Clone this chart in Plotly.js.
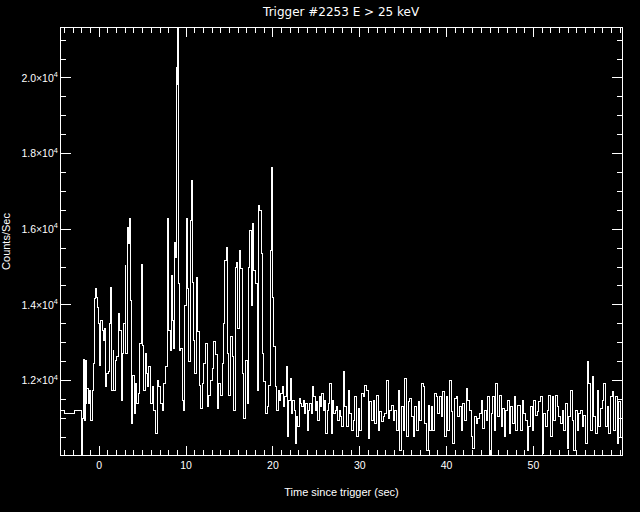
<!DOCTYPE html>
<html>
<head>
<meta charset="utf-8">
<script src="https://cdn.plot.ly/plotly-3.0.1.min.js"></script>
<style>html,body{margin:0;padding:0;background:#000;}#chart{width:640px;height:512px;}
#chart .js-line{shape-rendering:crispEdges;}</style>
</head>
<body>
<div id="chart"></div>
<script>
// Burst portion (time in s since trigger, counts/sec)
const timeBurst = [-4.43,-3.97,-2.82,-2.05,-1.97,-1.82,-1.74,-1.67,-1.59,-1.51,-1.44,-1.28,-1.13,-0.98,-0.82,-0.71,-0.59,-0.48,-0.36,-0.21,-0.10,0.06,0.17,0.36,0.48,0.63,0.75,0.86,1.02,1.13,1.32,1.44,1.59,1.70,1.82,2.01,2.20,2.39,2.59,2.70,2.85,2.97,3.08,3.24,3.39,3.54,3.66,3.77,3.89,4.08,4.20,4.31,4.54,4.69,4.85,4.96,5.15,5.34,5.46,5.61,5.73,5.92,6.15,6.30,6.49,6.69,6.88,7.07,7.26,7.45,7.64,7.83,7.91,8.03,8.22,8.33,8.45,8.60,8.72,8.83,8.91,8.98,9.02,9.10,9.25,9.37,9.56,9.75,9.83,10.06,10.17,10.32,10.48,10.59,10.71,10.86,11.01,11.21,11.36,11.51,11.67,11.86,12.05,12.24,12.43,12.62,12.81,13.01,13.20,13.39,13.58,13.77,13.96,14.16,14.35,14.46,14.62,14.73,14.92,15.11,15.30,15.50,15.69,15.80,15.96,16.11,16.26,16.45,16.65,16.84,17.03,17.22,17.34,17.49,17.64,17.80,17.99,18.18,18.37,18.49,18.68,18.79,18.94,19.14,19.33,19.52,19.71,19.79,19.94,20.09,20.28];
const countsBurst = [11216,11128,11216,10000,10996,12553,11831,10952,12535,11392,11787,11392,11743,10952,11743,12447,14162,14426,14206,13942,13503,12403,13591,13327,13063,13371,11831,12183,12227,13503,14470,11743,12799,11743,12535,12623,13767,13327,11480,12711,13503,15042,12711,16054,15614,16274,14118,10864,12139,11128,11920,11392,11656,12975,15060,12931,11743,12711,12183,11831,12359,11392,11831,11216,10600,12007,11831,11392,11216,11920,12359,13327,16274,13327,12799,14778,13591,12843,15658,15262,20276,19837,21400,14558,12799,12843,11480,11216,13987,16274,14426,12491,16230,17285,14602,13063,12183,14734,13283,11875,11260,11920,12447,12975,11304,11612,12007,12315,13019,12700,11260,11920,11612,12447,13503,15174,15526,12711,11612,13151,12623,11216,14998,15130,13371,15438,14954,12183,10996,12535,11392,14998,15966,13987,16142,14910,14558,11743,16626,16494,15350,12711,11964,11128,11304,11875,15438,17637,14206,12887,11831];

// Post-burst background
const timeTail = [20.37,20.59,20.75,20.90,21.05,21.21,21.36,21.51,21.67,21.82,21.97,22.13,22.28,22.43,22.59,22.74,22.89,23.05,23.20,23.35,23.51,23.66,23.81,23.97,24.12,24.27,24.43,24.58,24.73,24.89,25.04,25.19,25.35,25.50,25.65,25.81,25.96,26.11,26.27,26.42,26.57,26.72,26.88,27.03,27.18,27.34,27.49,27.64,27.80,27.95,
28.10,28.29,28.48,28.67,28.87,29.06,29.25,29.44,29.63,29.82,30.02,30.21,30.40,30.59,30.78,30.97,31.16,31.36,31.55,31.74,31.93,32.12,32.31,32.51,32.70,32.89,33.08,33.27,33.46,33.65,33.85,34.04,34.23,34.42,34.61,34.80,35.00,35.19,35.38,35.57,35.76,35.95,36.15,36.34,36.53,36.72,36.91,37.10,37.29,37.49,37.68,37.87,38.06,
38.22,38.41,38.60,38.79,38.99,39.18,39.37,39.56,39.75,39.94,40.14,40.33,40.52,40.71,40.90,41.09,41.28,41.48,41.67,41.86,42.05,42.24,42.43,42.63,42.82,43.01,43.20,43.39,43.58,43.77,43.97,44.16,44.35,44.54,44.73,44.92,45.12,45.31,45.50,45.69,45.88,46.07,46.27,46.46,46.65,46.84,47.03,47.22,47.41,47.61,47.80,47.99,48.18,
48.33,48.52,48.71,48.90,49.10,49.29,49.48,49.67,49.86,50.05,50.25,50.44,50.63,50.82,51.01,51.20,51.39,51.59,51.78,51.97,52.16,52.35,52.54,52.74,52.93,53.12,53.31,53.50,53.69,53.88,54.08,54.27,54.46,54.65,54.84,55.03,55.23,55.42,55.61,55.80,55.99,56.18,56.38,56.57,56.76,56.95,57.14,57.33,57.52,57.72,57.91,58.10,58.29,58.48,58.67,58.86,59.06,59.25,59.44,59.63,59.82,60.01];
const countsTail = [11216,11744,11480,11656,11832,11304,11568,12360,10512,11480,12052,11128,11480,11216,10336,11040,10776,11524,11392,11304,11480,11128,11392,10688,11216,11392,11128,11832,11568,11216,11436,10952,11568,11304,11656,11216,11480,10600,11216,11392,11920,10600,11480,11128,11216,11304,10952,11216,11040,10776,
12227,11304,10776,11743,11128,10688,10952,11568,10512,11260,10688,11656,11568,11875,11743,10468,11436,10952,11480,10864,11612,10688,11172,10908,11040,11128,12007,10996,11216,11348,10952,11216,10688,11743,10160,11304,10688,12051,10512,11436,11524,11040,10512,11304,10688,11436,10952,11919,11832,10864,10160,11348,10688,
11304,10688,11656,11568,11128,11568,11040,11700,10512,11568,10688,12007,11172,10336,11524,11568,11040,11304,10688,11392,10952,11788,11480,11216,10512,10204,11040,10864,10996,11128,11480,10732,11216,10952,11568,9940,11128,11568,10688,11919,11040,11612,10776,11260,10512,11216,11480,10600,11304,10864,11568,10688,11348,
11348,10688,11480,11128,10952,10160,10776,11304,10688,11480,11084,11172,11436,11568,10072,11128,10776,11216,11612,10512,11568,10952,11612,11304,11040,10864,11216,10688,11392,10204,11040,11743,10952,10160,11216,10688,11128,11216,10776,11084,10336,12509,11919,10688,12095,11040,10600,11743,10776,11260,11480,11919,10776,11304,10600,11568,11700,10688,11568,10336,11436,10512];

const yTickVals = [12000,14000,16000,18000,20000];
const yTickText = ['1.2×10<sup>4</sup>','1.4×10<sup>4</sup>','1.6×10<sup>4</sup>','1.8×10<sup>4</sup>','2.0×10<sup>4</sup>'];
const xTickVals = [0,10,20,30,40,50];

const fnt = {family: 'Liberation Sans, Arial, sans-serif', size: 10.5, color: '#ffffff'};
const titleFnt = {family: 'Liberation Sans, Arial, sans-serif', size: 11, color: '#ffffff'};

Plotly.newPlot('chart', [{
  x: timeBurst.concat(timeTail),
  y: countsBurst.concat(countsTail),
  type: 'scatter', mode: 'lines',
  line: {color: '#ffffff', width: 1, shape: 'hv'},
  hoverinfo: 'skip'
}], {
  width: 640, height: 512,
  paper_bgcolor: '#000000', plot_bgcolor: '#000000',
  margin: {l: 61, r: 18, t: 28, b: 57},
  showlegend: false,
  font: fnt,
  title: {text: 'Trigger #2253 E > 25 keV', font: {family: 'DejaVu Sans, sans-serif', size: 12, color: '#fff'}, x: 0.533, xanchor: 'center', y: 0.977, yanchor: 'middle'},
  xaxis: {
    range: [-4.4, 60.2], showgrid: false, zeroline: false,
    showline: true, linecolor: '#fff', linewidth: 1, mirror: 'ticks',
    ticks: 'inside', ticklen: 9, tickcolor: '#fff', tickwidth: 1,
    tickmode: 'array', tickvals: xTickVals, ticktext: xTickVals.map(String),
    tickfont: fnt,
    minor: {dtick: 1, tick0: 0, ticklen: 5, tickcolor: '#fff', ticks: 'inside', showgrid: false},
    title: {text: 'Time since trigger (sec)', font: titleFnt, standoff: 18}
  },
  yaxis: {
    range: [10030, 21320], showgrid: false, zeroline: false,
    showline: true, linecolor: '#fff', linewidth: 1, mirror: 'ticks',
    ticks: 'inside', ticklen: 10, tickcolor: '#fff', tickwidth: 1,
    tickmode: 'array', tickvals: yTickVals, ticktext: yTickText,
    tickfont: fnt,
    minor: {dtick: 500, tick0: 0, ticklen: 5, tickcolor: '#fff', ticks: 'inside', showgrid: false},
    title: {text: 'Counts/Sec', font: titleFnt, standoff: 8}
  }
}, {displayModeBar: false, staticPlot: true});
</script>
</body>
</html>
